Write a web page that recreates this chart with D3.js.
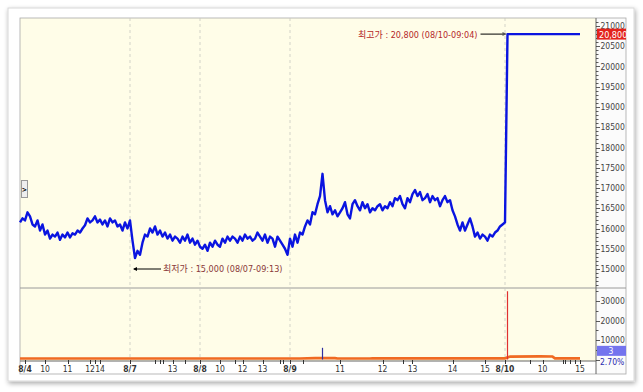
<!DOCTYPE html>
<html><head><meta charset="utf-8">
<script src="https://cdn.jsdelivr.net/npm/d3@7"></script>
<style>
html,body{margin:0;padding:0;background:#fff;}
svg{display:block;}
text{font-family:"Liberation Sans Narrow","DejaVu Sans Condensed","Liberation Sans","Noto Sans CJK KR",sans-serif;}
</style></head>
<body>
<script>
// ---- data ----
// price samples (one per sample index)
const price = [
16150,16250,16200,16400,16300,16100,16050,16200,15950,16100,
15850,15950,15750,15850,15800,15900,15720,15850,15780,15900,
15780,15880,15850,15950,15900,16000,16080,16250,16150,16200,
16300,16150,16220,16100,16200,16050,16250,16150,16200,16050,
16100,15950,16150,16000,16200,15700,15270,15450,15350,15650,
15850,15800,16000,15900,16050,15850,15950,15800,15900,15750,
15850,15700,15800,15750,15650,15800,15700,15850,15650,15750,
15600,15700,15550,15500,15600,15450,15650,15550,15700,15600,
15550,15750,15650,15800,15700,15800,15750,15650,15800,15700,
15850,15750,15800,15700,15750,15900,15800,15700,15850,15650,
15800,15750,15550,15800,15700,15600,15500,15350,15750,15550,
15850,15650,15900,15850,16050,16200,16100,16400,16350,16600,
16800,17350,16700,16400,16550,16350,16450,16300,16400,16500,
16650,16350,16250,16600,16700,16550,16450,16650,16500,16600,
16400,16500,16450,16550,16600,16450,16550,16500,16650,16550,
16750,16700,16800,16600,16500,16750,16650,16850,16950,16800,
16900,16700,16750,16850,16650,16800,16700,16750,16550,16700,
16800,16650,16700,16450,16300,16100,15950,16150,15950,16100,
16250,16050,15800,15900,15750,15850,15800,15700,15850,15800,
15900,15950,16050,16100,16150,20800,20800,20800,20800,20800,
20800,20800,20800,20800,20800,20800,20800,20800,20800,20800,
20800,20800,20800,20800,20800,20800,20800,20800,20800,20800,
20800,20800,20800,20800,20800
];
// volume spikes
const volSpikeIdx = [121, 195];
const volSpikeVal = [6000, 35000];
const volSpikeDir = ["down", "up"];
// volume moving-average line (index, value)
const volMAIdx = [0, 112, 118, 126, 127, 140, 141, 194, 196, 208, 213, 214, 224];
const volMAVal = [500, 500, 700, 700, 500, 500, 600, 600, 1500, 1600, 1500, 600, 600];
// x-axis ticks
const xTickIdx   = [2, 10, 19, 28, 32, 44, 61, 72, 80, 89, 97, 108, 128, 145, 157, 173, 186, 194, 209, 224];
const xTickLabel = ["8/4","10","11","12","14","8/7","13","8/8","10","12","13","8/9","11","12","13","14","15","8/10","10","15"];
const xMinorIdx  = [30, 54, 56, 57, 66, 86, 104, 105, 113, 153, 204, 217, 218, 220, 222];
const dayIdx = [44, 72, 108, 194];
// price axis
const priceTicks = [15000,15500,16000,16500,17000,17500,18000,18500,19000,19500,20000,20500,21000];
const volTicks = [10000, 20000, 30000];
// annotations
const highVal = 20800, highIdx = 195, highLabel = "최고가 : 20,800 (08/10-09:04)";
const lowVal = 15000, lowIdx = 46, lowLabel = "최저가 : 15,000 (08/07-09:13)";
const lastPriceLabel = "20,800";
const lastVolLabel = "3", lastPctLabel = "2.70%";

// ---- layout ----
const W = 643, H = 392;
const L = 20, R = 596, T = 18, SEP = 288, B = 361, AX = 626;
const svg = d3.select("body").append("svg").attr("width", W).attr("height", H);
const defs = svg.append("defs");
const f = defs.append("filter").attr("id","sh").attr("x","-5%").attr("y","-5%").attr("width","110%").attr("height","110%");
f.append("feGaussianBlur").attr("in","SourceAlpha").attr("stdDeviation",2.5);
f.append("feOffset").attr("dx",1).attr("dy",2).attr("result","o");
f.append("feComponentTransfer").append("feFuncA").attr("type","linear").attr("slope",0.35);
const m = f.append("feMerge"); m.append("feMergeNode"); m.append("feMergeNode").attr("in","SourceGraphic");

svg.append("rect").attr("x",8).attr("y",8).attr("width",626).attr("height",373)
  .attr("fill","#fff").attr("stroke","#d8d8d8").attr("filter","url(#sh)");

const x = d3.scaleLinear().domain([0, 230]).range([L, 595]);
const yP = d3.scaleLinear().domain([15000, 21000]).range([269, 26]);
const yV = d3.scaleLinear().domain([0, 30000]).range([359.5, 301]);

// plot bg
svg.append("rect").attr("x",L).attr("y",T).attr("width",R-L).attr("height",B-T).attr("fill","#fffde8");
svg.append("rect").attr("x",R).attr("y",T).attr("width",AX-R).attr("height",B-T+13).attr("fill","#fbfbfb");
// frame lines
svg.append("rect").attr("x",L).attr("y",T).attr("width",AX-L).attr("height",B-T+13)
  .attr("fill","none").attr("stroke","#a8a8a8").attr("stroke-width",0.8);
svg.append("line").attr("x1",L).attr("x2",AX).attr("y1",SEP).attr("y2",SEP).attr("stroke","#9a9a9a");
svg.append("line").attr("x1",R).attr("x2",R).attr("y1",T).attr("y2",B+13).attr("stroke","#666");
svg.append("line").attr("x1",L).attr("x2",R).attr("y1",B).attr("y2",B).attr("stroke","#666");

// day gridlines
svg.append("g").selectAll("line").data(dayIdx).join("line")
  .attr("x1",d=>x(d)).attr("x2",d=>x(d)).attr("y1",T).attr("y2",B)
  .attr("stroke","#c8c8c0").attr("stroke-dasharray","3,3").attr("stroke-width",0.8);

// price axis ticks
const pAxis = svg.append("g");
const minorP = d3.range(14600, 21201, 100);
pAxis.selectAll("line.mn").data(minorP.filter(v=>yP(v)>T && yP(v)<SEP)).join("line")
  .attr("x1",R).attr("x2",d=>R+(d%500===0?4:2.5)).attr("y1",d=>Math.round(yP(d))+0.5).attr("y2",d=>Math.round(yP(d))+0.5)
  .attr("stroke","#333").attr("stroke-width",0.8);
pAxis.selectAll("text").data(priceTicks).join("text")
  .attr("x",R+4.5).attr("y",d=>yP(d)+3).attr("font-size",8.5).attr("fill","#444").text(d=>d);

// volume axis ticks
const minorV = d3.range(0, 36001, 5000);
svg.append("g").selectAll("line").data(minorV.filter(v=>yV(v)>SEP+2)).join("line")
  .attr("x1",R).attr("x2",d=>R+(d%10000===0?4:2.5)).attr("y1",d=>Math.round(yV(d))+0.5).attr("y2",d=>Math.round(yV(d))+0.5)
  .attr("stroke","#333").attr("stroke-width",0.8);
svg.append("g").selectAll("text").data(volTicks).join("text")
  .attr("x",R+4.5).attr("y",d=>yV(d)+3).attr("font-size",8.5).attr("fill","#444").text(d=>d);

// x axis
const xa = svg.append("g");
xa.selectAll("line.t").data(xTickIdx).join("line").attr("class","t")
  .attr("x1",d=>Math.round(x(d))+0.5).attr("x2",d=>Math.round(x(d))+0.5).attr("y1",B-1).attr("y2",B+3).attr("stroke","#333");
xa.selectAll("line.m").data(xMinorIdx).join("line").attr("class","m")
  .attr("x1",d=>Math.round(x(d))+0.5).attr("x2",d=>Math.round(x(d))+0.5).attr("y1",B-1).attr("y2",B+3).attr("stroke","#333");
xa.selectAll("text").data(xTickIdx).join("text")
  .attr("x",d=>x(d)).attr("y",B+10.5).attr("text-anchor","middle").attr("font-size",8.5)
  .attr("font-weight",(d,i)=>xTickLabel[i].includes("/")?"bold":"normal").attr("fill","#333")
  .text((d,i)=>xTickLabel[i]);

// volume MA (orange)
const volMA = volMAIdx.map((d,i)=>[d, volMAVal[i]]);
svg.append("path").datum(volMA).attr("fill","none").attr("stroke","#f06a22").attr("stroke-width",2.6)
  .attr("d", d3.line().x(d=>x(d[0])).y(d=>yV(d[1])));
// volume spikes
svg.append("g").selectAll("line").data(volSpikeIdx).join("line")
  .attr("x1",d=>x(d)).attr("x2",d=>x(d)).attr("y1",yV(0)).attr("y2",(d,i)=>yV(volSpikeVal[i]))
  .attr("stroke",(d,i)=>volSpikeDir[i]==="up"?"#e03030":"#3030a0").attr("stroke-width",1.2);

// price line
svg.append("path").datum(price).attr("fill","none").attr("stroke","#0a14e0").attr("stroke-width",2.4)
  .attr("stroke-linejoin","round")
  .attr("d", d3.line().x((d,i)=>x(i)).y(d=>yP(d)));

// annotations
const ann = svg.append("g");
ann.append("line").attr("x1",x(highIdx)-27).attr("x2",x(highIdx)-2).attr("y1",yP(highVal)).attr("y2",yP(highVal)).attr("stroke","#000").attr("stroke-width",1);
ann.append("path").attr("d",`M${x(highIdx)-1},${yP(highVal)} l-4,-2 l0,4 z`).attr("fill","#555");
ann.append("text").attr("x",x(highIdx)-30).attr("y",yP(highVal)+3.5).attr("text-anchor","end")
  .attr("font-size",9).attr("fill","#b42828").text(highLabel);
ann.append("line").attr("x1",x(lowIdx)-1).attr("x2",x(lowIdx)+26).attr("y1",yP(lowVal)).attr("y2",yP(lowVal)).attr("stroke","#000").attr("stroke-width",1);
ann.append("path").attr("d",`M${x(lowIdx)-2},${yP(lowVal)} l4,-2 l0,4 z`).attr("fill","#000");
ann.append("text").attr("x",x(lowIdx)+28).attr("y",yP(lowVal)+3).attr("text-anchor","start")
  .attr("font-size",9).attr("fill","#8a3838").text(lowLabel);

// last price box
const lp = yP(highVal);
svg.append("rect").attr("x",R+1).attr("y",lp-5.5).attr("width",AX-R-1).attr("height",11).attr("fill","#e3221c");
svg.append("text").attr("x",R+3).attr("y",lp+3.5).attr("font-size",9).attr("fill","#fff").text(lastPriceLabel);
// last volume box
svg.append("rect").attr("x",R+1).attr("y",yV(7000)).attr("width",AX-R-1).attr("height",10).attr("fill","#7474ee");
svg.append("text").attr("x",(R+AX)/2).attr("y",yV(7000)+8).attr("text-anchor","middle").attr("font-size",8.5).attr("fill","#fff").text(lastVolLabel);
svg.append("text").attr("x",R+4).attr("y",yV(7000)+19).attr("font-size",8.5).attr("fill","#2a2ab0").text(lastPctLabel);

// small toggle button
svg.append("rect").attr("x",21.5).attr("y",180.5).attr("width",6).attr("height",17).attr("fill","#eeeeee").attr("stroke","#999");
svg.append("text").attr("x",24.5).attr("y",192).attr("text-anchor","middle").attr("font-size",7).attr("font-weight","bold").attr("fill","#000").text(">");
</script>
</body></html>
